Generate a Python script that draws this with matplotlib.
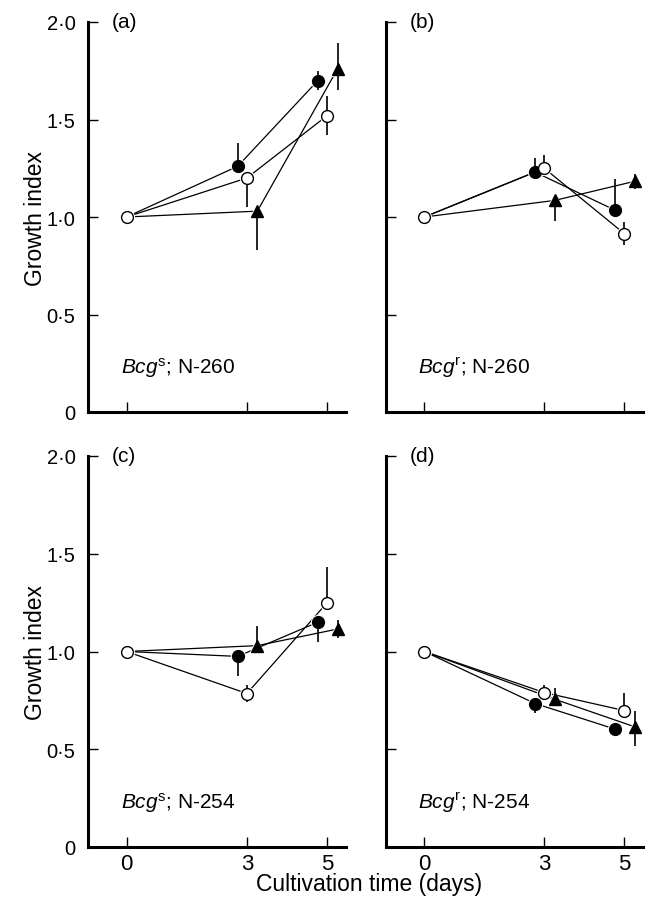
import matplotlib
matplotlib.use("Agg")
import matplotlib.pyplot as plt
import numpy as np

plt.rcParams['font.family'] = ['Liberation Sans', 'DejaVu Sans']
plt.rcParams['mathtext.fontset'] = 'custom'
plt.rcParams['mathtext.rm'] = 'Liberation Sans'
plt.rcParams['mathtext.it'] = 'Liberation Sans:italic'

days = [0, 3, 5]
panel_labels = ['(a)', '(b)', '(c)', '(d)']
panel_titles = [r'$\it{Bcg}^{\rm s}$; N-260', r'$\it{Bcg}^{\rm r}$; N-260',
                r'$\it{Bcg}^{\rm s}$; N-254', r'$\it{Bcg}^{\rm r}$; N-254']
yticks = [0, 0.5, 1.0, 1.5, 2.0]
ytick_labels = ['0', '0·5', '1·0', '1·5', '2·0']
xtick_labels = ['0', '3', '5']

# open circles
open_vals = [[1.0, 1.20, 1.52], [1.0, 1.25, 0.915], [1.0, 0.785, 1.25], [1.0, 0.79, 0.698]]
open_lo = [[0, 0.15, 0.10], [0, 0, 0.06], [0, 0.045, 0], [0, 0, 0]]
open_hi = [[0, 0, 0.10], [0, 0.07, 0.06], [0, 0.045, 0.18], [0, 0.04, 0.09]]
# filled circles
fill_vals = [[1.0, 1.26, 1.70], [1.0, 1.23, 1.035], [1.0, 0.975, 1.15], [1.0, 0.734, 0.603]]
fill_lo = [[0, 0, 0.05], [0, 0, 0], [0, 0.10, 0.10], [0, 0.05, 0.035]]
fill_hi = [[0, 0.12, 0.05], [0, 0.075, 0.16], [0, 0, 0], [0, 0, 0]]
# filled triangles
tri_vals = [[1.0, 1.03, 1.76], [1.0, 1.085, 1.183], [1.0, 1.03, 1.115], [1.0, 0.756, 0.615]]
tri_lo = [[0, 0.20, 0.11], [0, 0.105, 0.04], [0, 0, 0.045], [0, 0, 0.10]]
tri_hi = [[0, 0, 0.13], [0, 0, 0.04], [0, 0.10, 0.045], [0, 0.055, 0.08]]

W, H = 666, 912
fig = plt.figure(figsize=(W / 100, H / 100), dpi=100)

boxes = [(88, 23, 346, 413), (386, 23, 643, 413), (88, 457, 346, 848), (386, 457, 643, 848)]

def shift(d, off):
    return [x + (off if x != 0 else 0) for x in d]

series = [
    (fill_vals, fill_lo, fill_hi, 'o', 'black', -0.23, 8.5),
    (tri_vals, tri_lo, tri_hi, '^', 'black', 0.26, 9.0),
    (open_vals, open_lo, open_hi, 'o', 'white', 0.0, 8.5),
]

for i, (x0, y0, x1, y1) in enumerate(boxes):
    ax = fig.add_axes([x0 / W, 1 - y1 / H, (x1 - x0) / W, (y1 - y0) / H])
    ax.set_xlim(-0.96, 5.47)
    ax.set_ylim(0, 2.0)
    for s in ['top', 'right']:
        ax.spines[s].set_visible(False)
    for s in ['left', 'bottom']:
        ax.spines[s].set_linewidth(2.2)
    ax.set_yticks(yticks)
    ax.set_xticks(days)
    ax.tick_params(direction='in', length=7, width=1.0, labelsize=14.5)
    ax.tick_params(axis='y', pad=9)
    ax.tick_params(axis='x', pad=4)
    if i % 2 == 0:
        ax.set_yticklabels(ytick_labels)
    else:
        ax.set_yticklabels([])
    if i >= 2:
        ax.set_xticklabels(xtick_labels, fontsize=16)
    else:
        ax.set_xticklabels([])

    for vals, lo, hi, mk, fc, off, ms in series:
        xs = shift(days, off)
        ys = vals[i]
        ax.plot(xs, ys, '-', color='black', lw=0.9, zorder=2)
        start = 0 if fc == 'white' else 1
        ax.plot(xs[start:], ys[start:], linestyle='none', marker=mk, ms=ms + 2.5,
                mfc='white', mec='white', mew=0, zorder=3)
        ax.errorbar(xs[1:], ys[1:], yerr=[lo[i][1:], hi[i][1:]], fmt='none',
                    ecolor='black', elinewidth=1.2, capsize=0, zorder=3.5)
        ax.plot(xs[start:], ys[start:], linestyle='none', marker=mk, ms=ms,
                mfc=fc, mec='black', mew=1.0, zorder=4)

    ax.text(-0.36, 2.0, panel_labels[i], fontsize=15, ha='left', va='center')
    ax.text(-0.15, 0.23, panel_titles[i], fontsize=15, ha='left', va='center')

fig.text(35 / W, 1 - 218 / H, 'Growth index', rotation=90, fontsize=16.5,
         ha='center', va='center')
fig.text(35 / W, 1 - 652 / H, 'Growth index', rotation=90, fontsize=16.5,
         ha='center', va='center')
fig.text(369 / W, 1 - 885 / H, 'Cultivation time (days)', fontsize=16.5,
         ha='center', va='center')

fig.savefig('out.png', dpi=100)
